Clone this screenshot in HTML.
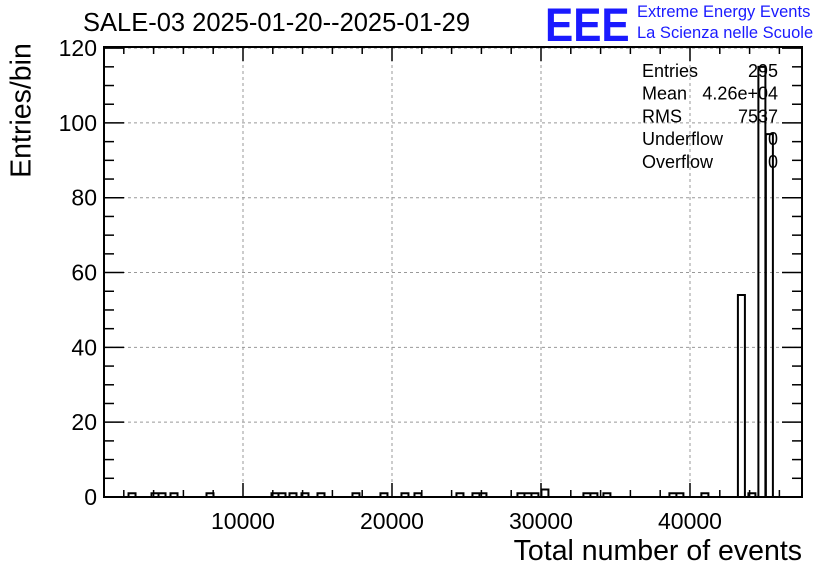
<!DOCTYPE html>
<html><head><meta charset="utf-8"><style>
body{margin:0;background:#fff;}
svg{display:block;font-family:"Liberation Sans",Arial,sans-serif;}
</style></head><body>
<svg id="c" width="836" height="572"></svg>
<script>
const binCenters=[2552,4095,4565,5370,7786,12147,12617,13355,14160,15234,17582,19461,20870,21743,24561,25635,26104,28654,29124,29593,30264,33082,33552,34424,38853,39323,41000,43450,44154,44825,45328];
const binCounts=[1,1,1,1,1,1,1,1,1,1,1,1,1,1,1,1,1,1,1,1,2,1,1,1,1,1,1,54,1,115,97];
const xTicks=[10000,20000,30000,40000];
const yTicks=[0,20,40,60,80,100,120];
const statLabels=["Entries","Mean","RMS","Underflow","Overflow"];
const statValues=["295","4.26e+04","7537","0","0"];
const binWidth=470;
const NS="http://www.w3.org/2000/svg";
const svg=document.getElementById('c');
const L=104,R=802,T=47,B=497,XMIN=671,XMAX=47517,YMAX=120.3;
const sx=v=>L+(v-XMIN)/(XMAX-XMIN)*(R-L);
const sy=v=>B-v/YMAX*(B-T);
function mk(tag,attrs,parent){const e=document.createElementNS(NS,tag);for(const k in attrs)e.setAttribute(k,attrs[k]);(parent||svg).appendChild(e);return e;}
xTicks.forEach(t=>{const g=mk('line',{x1:sx(t),x2:sx(t),y1:T,y2:B,stroke:'#999','stroke-dasharray':'3,3'});

});
yTicks.slice(1).forEach(t=>{const g=mk('line',{x1:L,x2:R,y1:sy(t),y2:sy(t),stroke:'#999','stroke-dasharray':'3,3'});

});
let d='';
const idx=binCenters.map((c,i)=>i).sort((a,b)=>binCenters[a]-binCenters[b]);
idx.forEach(i=>{const x0=sx(binCenters[i]-binWidth/2),x1=sx(binCenters[i]+binWidth/2),y=sy(binCounts[i]);
d+=`M${x0},${B}V${y}H${x1}V${B}`;});
const h=mk('path',{d:d,fill:'none',stroke:'#000','stroke-width':2});


mk('line',{x1:L,x2:R,y1:B,y2:B,stroke:'#000','stroke-width':2});
const f=mk('rect',{x:L,y:T,width:R-L,height:B-T,fill:'none',stroke:'#000','stroke-width':2});


for(let v=2000;v<=46000;v+=2000){const major=v%10000===0;const len=major?14:7;
mk('line',{x1:sx(v),x2:sx(v),y1:B,y2:B-len,stroke:'#000','stroke-width':1.5});
mk('line',{x1:sx(v),x2:sx(v),y1:T,y2:T+len,stroke:'#000','stroke-width':1.5});}
xTicks.forEach(t=>{const e=mk('text',{x:sx(t),y:529,'font-size':23,'text-anchor':'middle'});e.textContent=t;

});
for(let v=0;v<=120;v+=5){const major=v%20===0;const len=major?20:10;
mk('line',{x1:L,x2:L+len,y1:sy(v),y2:sy(v),stroke:'#000','stroke-width':1.5});
mk('line',{x1:R,x2:R-len,y1:sy(v),y2:sy(v),stroke:'#000','stroke-width':1.5});}
yTicks.forEach(t=>{const e=mk('text',{x:97,y:sy(t)+8,'font-size':23,'text-anchor':'end'});e.textContent=t;

});
statLabels.forEach((s,i)=>{const y=77+i*22.7;
const a=mk('text',{x:642,y:y,'font-size':18});a.textContent=s;


const b=mk('text',{x:778,y:y,'font-size':18,'text-anchor':'end'});b.textContent=statValues[i];

});
</script>
<div style="position:absolute;left:0;top:0;width:836px;height:572px;pointer-events:none;font-family:'Liberation Sans',Arial,sans-serif;">
<div style="position:absolute;left:83px;top:9px;font-size:25.5px;">SALE-03 2025-01-20--2025-01-29</div>
<div style="position:absolute;left:545px;top:-3px;font-size:47px;color:#1a1aff;font-weight:bold;transform:scaleX(0.9);transform-origin:left;">EEE</div>
<div style="position:absolute;left:637px;top:2px;font-size:16.5px;color:#1a1aff;line-height:21px;">Extreme Energy Events<br>La Scienza nelle Scuole</div>
<div style="position:absolute;right:34px;top:535px;font-size:28.5px;">Total number of events</div>
<div style="position:absolute;left:-58px;top:94px;width:160px;text-align:center;font-size:28.5px;transform:rotate(-90deg);transform-origin:center;">Entries/bin</div>
</div>
</body></html>
